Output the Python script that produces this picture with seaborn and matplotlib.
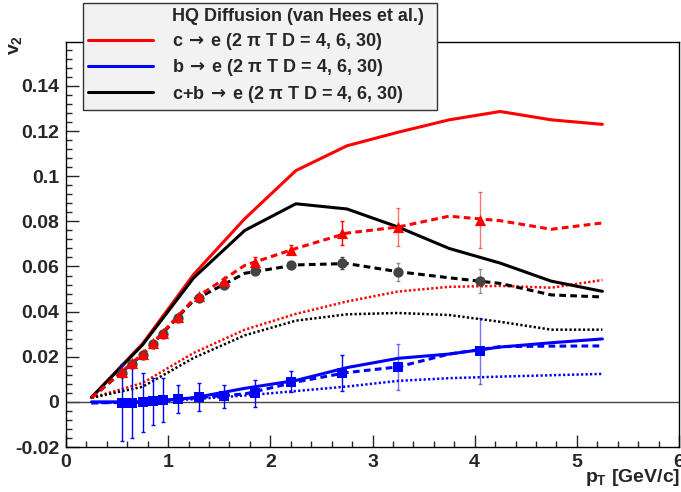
import numpy as np
import pandas as pd
import seaborn as sns
import matplotlib
matplotlib.use('Agg')
from matplotlib import pyplot as plt
from matplotlib.lines import Line2D
from matplotlib.ticker import MultipleLocator, FuncFormatter

# model curves (solid: 2piTD=4, dashed: 6, dotted: 30)
pt_curve = [0.25, 0.75, 1.25, 1.75, 2.25, 2.75, 3.25, 3.75, 4.25, 4.75, 5.25]
c_d4 = [0.002, 0.0258, 0.0565, 0.0812, 0.1025, 0.1135, 0.1195, 0.125, 0.1287, 0.125, 0.123]
c_d6 = [0.0018, 0.0213, 0.0455, 0.0605, 0.068, 0.0748, 0.0775, 0.0823, 0.0803, 0.0765, 0.0793]
c_d30 = [0.0018, 0.0084, 0.0217, 0.032, 0.039, 0.0445, 0.0489, 0.051, 0.0514, 0.0506, 0.054]
b_d4 = [0.0, 0.0, 0.0018, 0.006, 0.0095, 0.0152, 0.0193, 0.0212, 0.0243, 0.0262, 0.0279]
b_d6 = [-0.0005, -0.0001, 0.0018, 0.0035, 0.0088, 0.013, 0.0155, 0.0212, 0.0245, 0.0247, 0.0248]
b_d30 = [-0.0005, 0.0, 0.0012, 0.0028, 0.0048, 0.0068, 0.0093, 0.0105, 0.0112, 0.0118, 0.0124]
cb_d4 = [0.002, 0.0253, 0.055, 0.076, 0.0878, 0.0855, 0.0775, 0.068, 0.0615, 0.0535, 0.049]
cb_d6 = [0.0018, 0.021, 0.045, 0.057, 0.0607, 0.0613, 0.0577, 0.055, 0.0525, 0.0474, 0.0465]
cb_d30 = [0.0018, 0.0067, 0.0195, 0.0295, 0.036, 0.0388, 0.0394, 0.0385, 0.0355, 0.032, 0.032]

# points on the 2piTD=6 curves
pt_pts = [0.55, 0.65, 0.75, 0.85, 0.95, 1.1, 1.3, 1.55, 1.85, 2.2, 2.7, 3.25, 4.05]
c_pts = [0.0133, 0.0173, 0.0213, 0.026, 0.0306, 0.0376, 0.047, 0.0535, 0.062, 0.0675, 0.075, 0.0775, 0.0806]
c_err = [0.0005, 0.0005, 0.0005, 0.0006, 0.0007, 0.0008, 0.001, 0.0015, 0.002, 0.002, 0.0053, 0.0085, 0.0126]
cb_pts = [0.0128, 0.0168, 0.0208, 0.0255, 0.030, 0.037, 0.046, 0.052, 0.058, 0.0607, 0.0615, 0.0577, 0.0536]
cb_err = [0.0004, 0.0004, 0.0004, 0.0005, 0.0005, 0.0006, 0.0008, 0.001, 0.0012, 0.0015, 0.0027, 0.004, 0.0053]
b_pts = [-0.0004, -0.0003, -0.0002, 0.0002, 0.0008, 0.0013, 0.0022, 0.0025, 0.0039, 0.009, 0.0128, 0.0154, 0.0225]
b_err = [0.017, 0.0155, 0.013, 0.0105, 0.0098, 0.0062, 0.0063, 0.005, 0.006, 0.0047, 0.0078, 0.0102, 0.0145]

legend_labels = ['HQ Diffusion (van Hees et al.)',
                 r'c$\,\rightarrow\,$e (2 π T D = 4, 6, 30)',
                 r'b$\,\rightarrow\,$e (2 π T D = 4, 6, 30)',
                 r'c+b$\,\rightarrow\,$e (2 π T D = 4, 6, 30)']

sns.set_style('white')
plt.rcParams['font.family'] = ['Liberation Sans', 'DejaVu Sans']
plt.rcParams['font.weight'] = 'bold'
plt.rcParams['mathtext.fontset'] = 'custom'
plt.rcParams['mathtext.rm'] = 'Liberation Sans:bold'
plt.rcParams['mathtext.it'] = 'Liberation Sans:bold'
plt.rcParams['mathtext.bf'] = 'Liberation Sans:bold'

fig = plt.figure(figsize=(6.81, 4.92), dpi=100)
ax = fig.add_axes([66 / 681, 45 / 492, 613 / 681, 405 / 492])

ax.axhline(0, color='#444444', lw=1.0, zorder=1)

dash = (0, (2.2, 1.4))
dot = (0, (0.9, 0.9))
curves = [
    (c_d30, 'red', dot, 1.8), (cb_d30, 'black', dot, 1.8), (b_d30, 'blue', dot, 1.8),
    (c_d4, 'red', '-', 2.2), (cb_d4, 'black', '-', 2.2), (b_d4, 'blue', '-', 2.2),
    (cb_d6, 'black', dash, 2.2), (c_d6, 'red', dash, 2.2), (b_d6, 'blue', dash, 2.2),
]
for vals, col, ls, lw in curves:
    sns.lineplot(x=pt_curve, y=vals, color=col, linestyle=ls, lw=lw, ax=ax, zorder=2)

# error bars, last ones drawn lighter like in the original
def points(y, err, col, marker, ms):
    n = len(pt_pts)
    ax.errorbar(pt_pts[:n - 2], y[:n - 2], yerr=err[:n - 2], fmt='none', ecolor=col,
                elinewidth=1, capsize=1.5, zorder=3)
    ax.errorbar(pt_pts[n - 2:], y[n - 2:], yerr=err[n - 2:], fmt='none', ecolor=col,
                elinewidth=1, capsize=1.5, alpha=0.55, zorder=3)
    sns.scatterplot(x=pt_pts, y=y, color=col, marker=marker, s=ms, edgecolor=col,
                    linewidth=0, ax=ax, zorder=4)

points(cb_pts, cb_err, '#444444', 'o', 55)
points(c_pts, c_err, 'red', '^', 65)
points(b_pts, b_err, 'blue', 's', 42)

ax.set_xlim(0, 6)
ax.set_ylim(-0.02, 0.1595)
ax.xaxis.set_major_locator(MultipleLocator(1))
ax.xaxis.set_minor_locator(MultipleLocator(0.2))
ax.yaxis.set_major_locator(MultipleLocator(0.02))
ax.yaxis.set_minor_locator(MultipleLocator(0.004))
ax.yaxis.set_major_formatter(FuncFormatter(lambda v, p: '%g' % round(v, 3)))
ax.tick_params(which='major', direction='in', length=9, width=1, labelsize=14, pad=5,
               bottom=True, left=True, top=False, right=False)
ax.tick_params(which='minor', direction='in', length=4, width=1,
               bottom=True, left=True, top=False, right=False)
for lab in ax.get_xticklabels() + ax.get_yticklabels():
    lab.set_fontweight('bold')
for sp in ax.spines.values():
    sp.set_color('black')
    sp.set_linewidth(1)
ax.set_xlabel('')
ax.set_ylabel('')

fig.text(680 / 681, 14 / 492, r'$p_T$ [GeV/c]', ha='right', va='center',
         fontsize=14, fontweight='bold')
fig.text(16 / 681, 1 - 45 / 492, r'$v_2$', ha='center', va='center', rotation=90,
         fontsize=14, fontweight='bold')

handles = [Line2D([], [], color='none'),
           Line2D([], [], color='red', lw=2.2),
           Line2D([], [], color='blue', lw=2.2),
           Line2D([], [], color='black', lw=2.2)]
leg = fig.legend(handles, legend_labels, loc='upper left',
                 bbox_to_anchor=(83 / 681, 1 - 3 / 492, (437 - 83) / 681, 0.0),
                 mode='expand', fontsize=13, frameon=True, fancybox=False,
                 handlelength=3.6, handletextpad=1.05, labelspacing=0.3,
                 borderpad=0.3, borderaxespad=0)
leg.get_frame().set_facecolor('#f2f2f2')
leg.get_frame().set_edgecolor('#333333')
leg.get_frame().set_linewidth(1)
leg.get_frame().set_alpha(1)
for t in leg.get_texts():
    t.set_fontweight('bold')
    t.set_math_fontfamily('dejavusans')

fig.savefig('out.png', dpi=100)
